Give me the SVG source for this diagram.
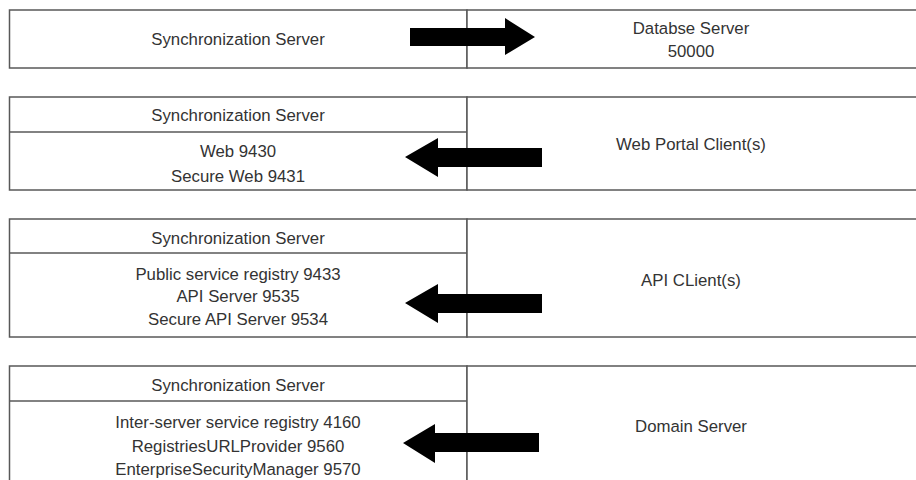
<svg xmlns="http://www.w3.org/2000/svg" width="916" height="480" viewBox="0 0 916 480">
<style>
.cell{fill:#fff;stroke:#585858;stroke-width:1.5}
.ln{stroke:#585858;stroke-width:1.5;fill:none}
text{font-family:"Liberation Sans",Arial,sans-serif;font-size:16.8px;fill:#333;text-anchor:middle}
.arr{fill:#000}
</style>
<rect width="916" height="480" fill="#fff"/>
<g id="row1-sync">
<rect class="cell" x="9.5" y="10" width="457.5" height="58"/>
<text x="238" y="45">Synchronization Server</text>
</g>
<g id="row1-db">
<rect class="cell" x="467" y="10" width="460" height="58"/>
<text x="691" y="34">Databse Server</text>
<text x="691" y="57">50000</text>
</g>
<g id="row2-sync">
<rect class="cell" x="9.5" y="97" width="457.5" height="93"/>
<line class="ln" x1="9.5" y1="132" x2="467" y2="132"/>
<text x="238" y="121">Synchronization Server</text>
<text x="238" y="157">Web 9430</text>
<text x="238" y="182">Secure Web 9431</text>
</g>
<g id="row2-web">
<rect class="cell" x="467" y="97" width="460" height="93"/>
<text x="691" y="150">Web Portal Client(s)</text>
</g>
<g id="row3-sync">
<rect class="cell" x="9.5" y="219" width="457.5" height="118"/>
<line class="ln" x1="9.5" y1="253" x2="467" y2="253"/>
<text x="238" y="244">Synchronization Server</text>
<text x="238" y="280">Public service registry 9433</text>
<text x="238" y="302">API Server 9535</text>
<text x="238" y="325">Secure API Server 9534</text>
</g>
<g id="row3-api">
<rect class="cell" x="467" y="219" width="460" height="118"/>
<text x="691" y="286">API CLient(s)</text>
</g>
<g id="row4-sync">
<rect class="cell" x="9.5" y="366" width="457.5" height="130"/>
<line class="ln" x1="9.5" y1="401" x2="467" y2="401"/>
<text x="238" y="391">Synchronization Server</text>
<text x="238" y="428">Inter-server service registry 4160</text>
<text x="238" y="452">RegistriesURLProvider 9560</text>
<text x="238" y="475">EnterpriseSecurityManager 9570</text>
</g>
<g id="row4-domain">
<rect class="cell" x="467" y="366" width="460" height="130"/>
<text x="691" y="432">Domain Server</text>
</g>
<g id="connectors">
<polygon class="arr" points="410,28 505,28 505,18 535,37 505,55 505,46 410,46"/>
<polygon class="arr" points="405,157 438,138 438,148 542,148 542,167 438,167 438,177"/>
<polygon class="arr" points="405,303 438,284 438,294 542,294 542,313 438,313 438,323"/>
<polygon class="arr" points="403,443 435,424 435,433 539,433 539,452 435,452 435,463"/>
</g>
</svg>
